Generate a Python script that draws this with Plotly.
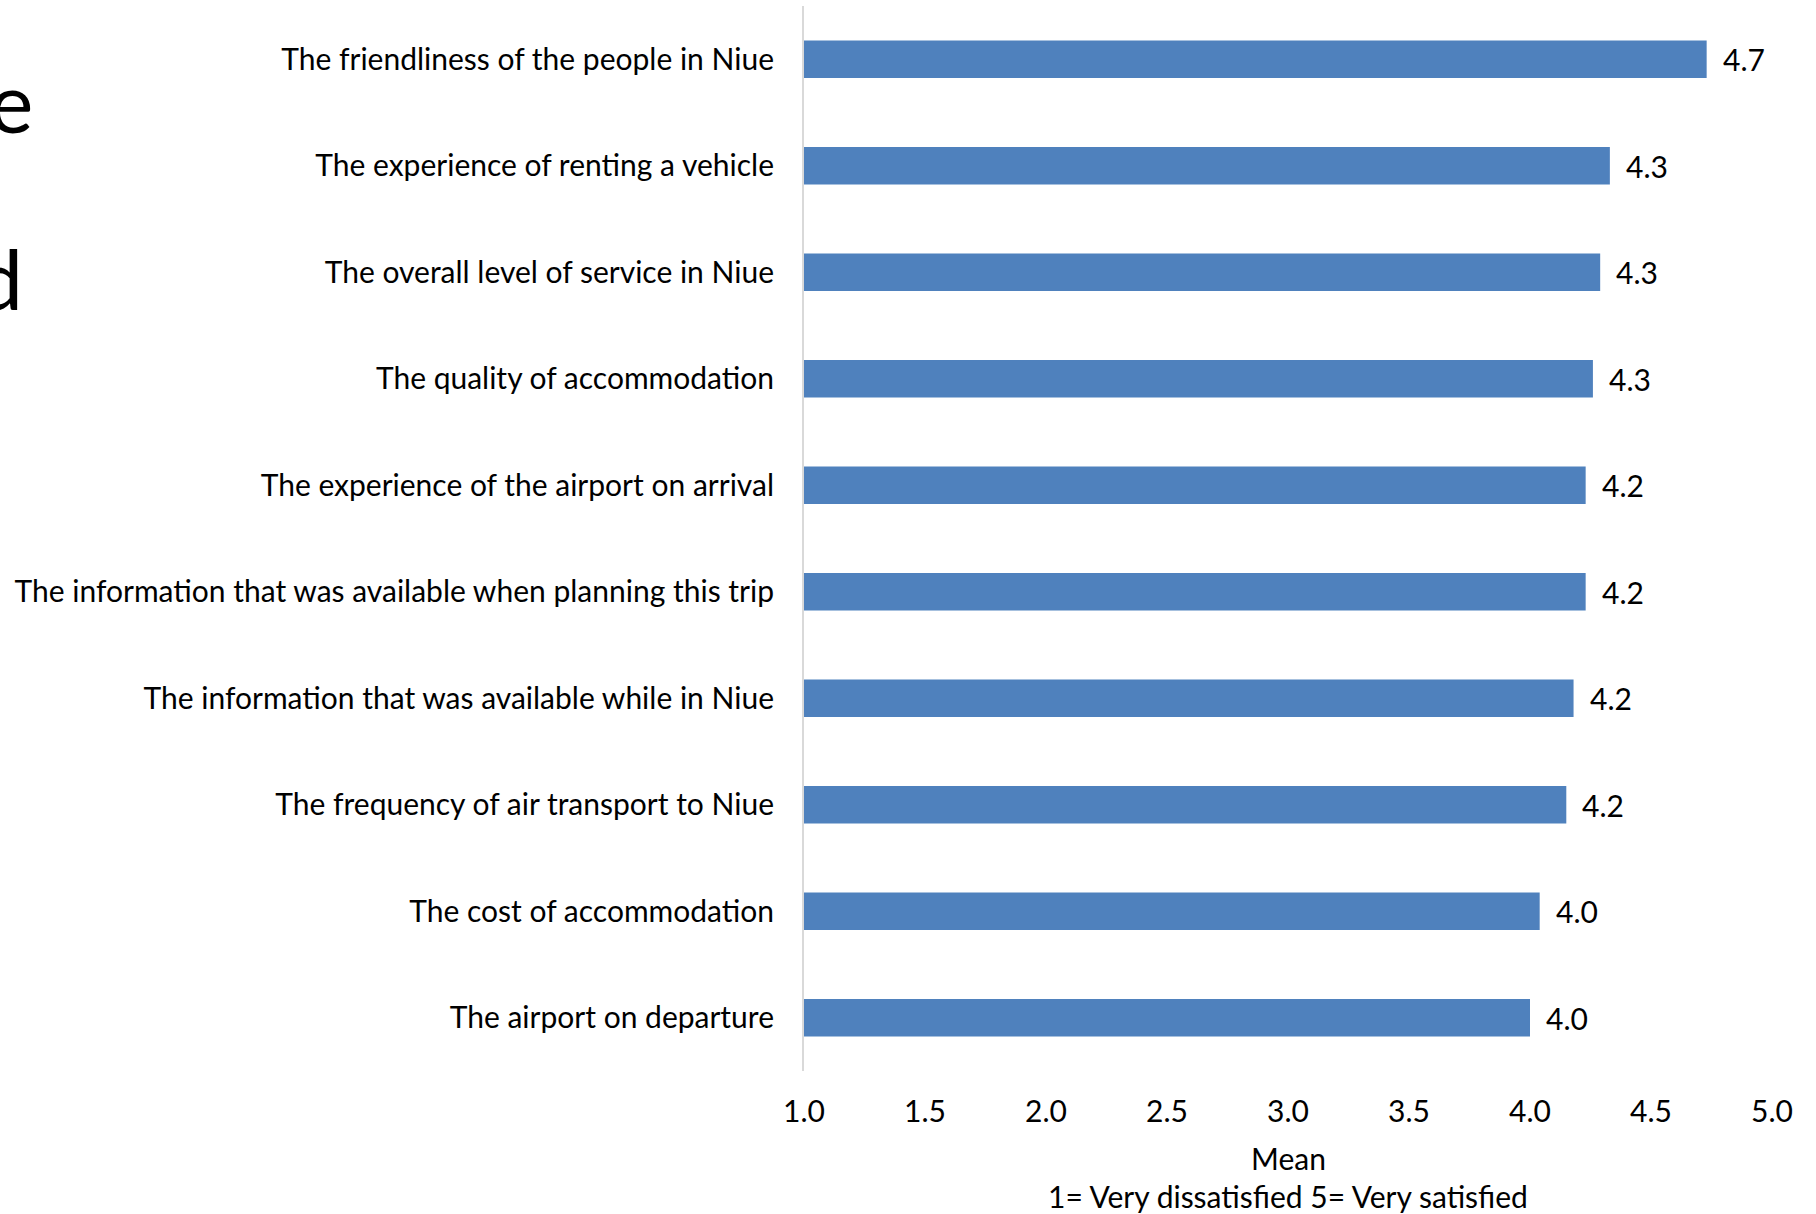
import plotly.graph_objects as go

categories = [
    "The friendliness of the people in Niue",
    "The experience of renting a vehicle",
    "The overall level of service in Niue",
    "The quality of accommodation",
    "The experience of the airport on arrival",
    "The information that was available when planning this trip",
    "The information that was available while in Niue",
    "The frequency of air transport to Niue",
    "The cost of accommodation",
    "The airport on departure",
]
means = [4.73, 4.33, 4.29, 4.26, 4.23, 4.23, 4.18, 4.15, 4.04, 4.00]
value_labels = ["4.7", "4.3", "4.3", "4.3", "4.2", "4.2", "4.2", "4.2", "4.0", "4.0"]
tick_vals = [1.0, 1.5, 2.0, 2.5, 3.0, 3.5, 4.0, 4.5, 5.0]
tick_text = ["1.0", "1.5", "2.0", "2.5", "3.0", "3.5", "4.0", "4.5", "5.0"]

FONT = "Lato, Carlito, sans-serif"

fig = go.Figure(go.Bar(
    y=categories,
    x=[m - 1 for m in means],
    base=1,
    orientation="h",
    width=0.35,
    marker=dict(color="#4F81BD", line=dict(width=0)),
    hoverinfo="skip",
))

for cat, m, lab in zip(categories, means, value_labels):
    fig.add_annotation(x=m, y=cat, xref="x", yref="y", text=lab, xanchor="left",
                       xshift=14, showarrow=False, font=dict(size=30, family=FONT, color="#000000"))

fig.update_layout(
    width=1816, height=1214,
    margin=dict(l=804, r=44, t=6, b=143),
    paper_bgcolor="white", plot_bgcolor="white",
    font=dict(family=FONT, color="#000000", size=30),
    showlegend=False,
)
fig.update_xaxes(
    range=[1, 5], tickvals=tick_vals, ticktext=tick_text, automargin=False,
    showgrid=False, zeroline=False, showline=False,
    ticks="outside", ticklen=14, tickcolor="rgba(0,0,0,0)",
    tickfont=dict(size=30, family=FONT),
)
fig.update_yaxes(
    categoryorder="array", categoryarray=categories, autorange="reversed", automargin=False,
    showgrid=False, zeroline=False, showline=True, linecolor="#D9D9D9", linewidth=2,
    ticks="outside", ticklen=22, tickcolor="rgba(0,0,0,0)",
    tickfont=dict(size=30, family=FONT),
)
fig.add_annotation(
    text="Mean", xref="paper", yref="paper", x=0.5, y=-(1158 - 1071) / 1065, yanchor="middle",
    showarrow=False, font=dict(size=30, family=FONT),
)
fig.add_annotation(
    text="1= Very dissatisfied 5= Very satisfied", xref="paper", yref="paper",
    x=0.5, y=-(1196 - 1071) / 1065, yanchor="middle",
    showarrow=False, font=dict(size=30, family=FONT),
)
fig.add_annotation(text="e", xref="paper", yref="paper", x=(-13 - 804) / 968, xanchor="left",
                   y=1 - (100 - 6) / 1065, yanchor="middle", showarrow=False,
                   font=dict(size=84, family=FONT))
fig.add_annotation(text="d", xref="paper", yref="paper", x=(-26 - 804) / 968, xanchor="left",
                   y=1 - (278 - 6) / 1065, yanchor="middle", showarrow=False,
                   font=dict(size=84, family=FONT))
fig.write_html("out.html")
